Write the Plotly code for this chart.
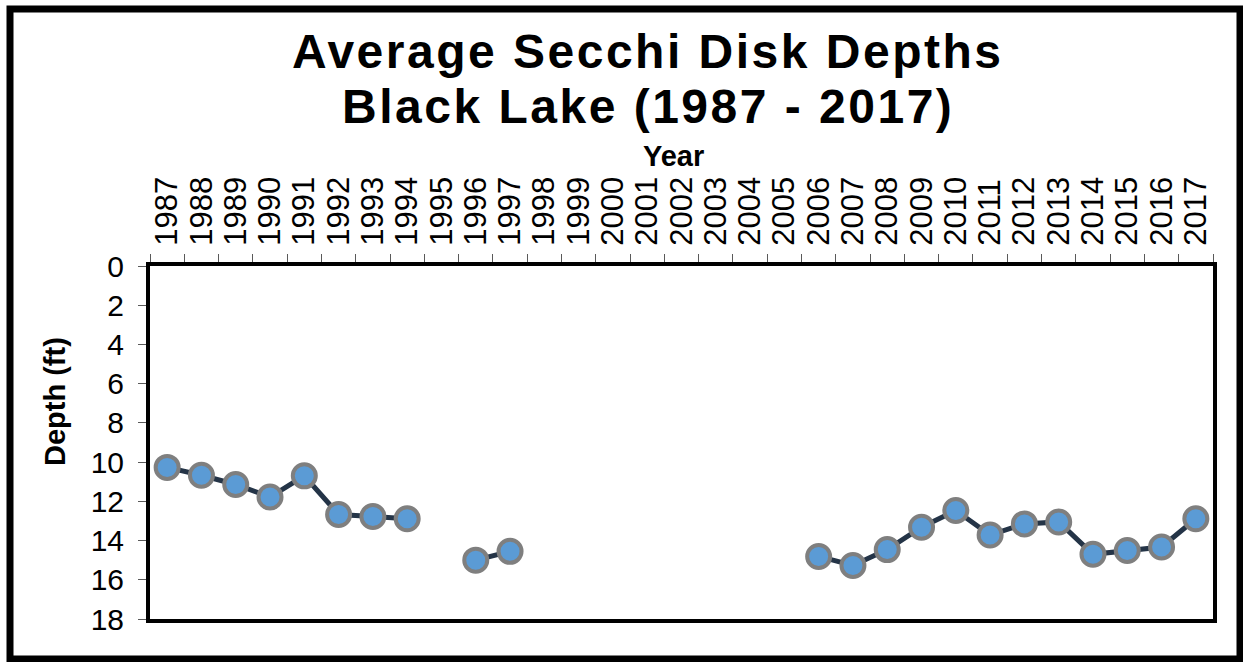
import plotly.graph_objects as go

years = [str(y) for y in range(1987, 2018)]
depths = [10.27, 10.67, 11.14, 11.78, 10.70, 12.67, 12.77, 12.89, None, 15.0, 14.55,
          None, None, None, None, None, None, None, None,
          14.81, 15.27, 14.46, 13.32, 12.47, 13.72, 13.15, 13.05, 14.70, 14.51, 14.33, 12.89]
y_ticks = list(range(0, 20, 2))

title_line1 = "Average Secchi Disk Depths"
title_line2 = "Black Lake (1987 - 2017)"
x_title = "Year"
y_title = "Depth (ft)"

FONT = "Liberation Sans, Arial, sans-serif"

fig = go.Figure()
fig.add_trace(go.Scatter(
    x=years, y=depths, mode="lines+markers", connectgaps=False,
    line=dict(color="#243447", width=5),
    marker=dict(size=23, color="#5B9BD5", line=dict(color="#7F7F7F", width=4)),
    showlegend=False, hoverinfo="x+y",
))

W, H = 1243, 662
L, R, T, B = 150, 30, 266, 43
pw, ph = W - L - R, H - T - B

def px(x):
    return (x - L) / pw

def py(y):
    return (H - B - y) / ph

def spaced(t, s):
    return '<span style="letter-spacing:%spx">' % s + t + "</span>"

fig.update_layout(
    width=W, height=H,
    margin=dict(l=L, r=R, t=T, b=B, pad=0),
    paper_bgcolor="white", plot_bgcolor="white",
    font=dict(family=FONT, color="black"),
    xaxis=dict(
        type="category", categoryorder="array", categoryarray=years,
        tickmode="array", tickvals=years, ticktext=years,
        side="top", range=[-0.5, len(years) - 0.5],
        tickson="boundaries", ticks="outside", ticklen=8, tickcolor="#595959", tickwidth=1,
        tickangle=-90, tickfont=dict(size=31, family=FONT, color="black"),
        ticklabelstandoff=10,
        showline=True, linecolor="black", linewidth=4, mirror=True,
        showgrid=False, zeroline=False, fixedrange=True,
    ),
    yaxis=dict(
        range=[18, 0], tickvals=y_ticks, ticks="outside", ticklen=8,
        tickcolor="#595959", tickwidth=1,
        tickfont=dict(size=30, family=FONT, color="black"),
        ticklabelstandoff=8,
        showline=True, linecolor="black", linewidth=4, mirror=True,
        showgrid=False, zeroline=False, fixedrange=True,
    ),
    shapes=[dict(
        type="rect", xref="paper", yref="paper",
        x0=px(10), x1=px(1240), y0=py(659), y1=py(9),
        line=dict(color="black", width=7), fillcolor="rgba(0,0,0,0)", layer="below",
    )],
    annotations=[
        dict(text="<b>" + spaced(title_line1, 2.5) + "</b>", xref="paper", yref="paper",
             x=px(647.5), y=py(52), xanchor="center", yanchor="middle", showarrow=False,
             font=dict(size=48, family=FONT, color="black")),
        dict(text="<b>" + spaced(title_line2, 2.5) + "</b>", xref="paper", yref="paper",
             x=px(647.5), y=py(106), xanchor="center", yanchor="middle", showarrow=False,
             font=dict(size=48, family=FONT, color="black")),
        dict(text="<b>" + x_title + "</b>", xref="paper", yref="paper",
             x=px(673), y=py(156), xanchor="center", yanchor="middle", showarrow=False,
             font=dict(size=29, family=FONT, color="black")),
        dict(text="<b>" + y_title + "</b>", xref="paper", yref="paper",
             x=px(55), y=py(402), xanchor="center", yanchor="middle", showarrow=False,
             textangle=-90, font=dict(size=29, family=FONT, color="black")),
    ],
)

fig.write_html("out.html", config={"displayModeBar": False},
               post_script="document.body.style.margin='0px';")
